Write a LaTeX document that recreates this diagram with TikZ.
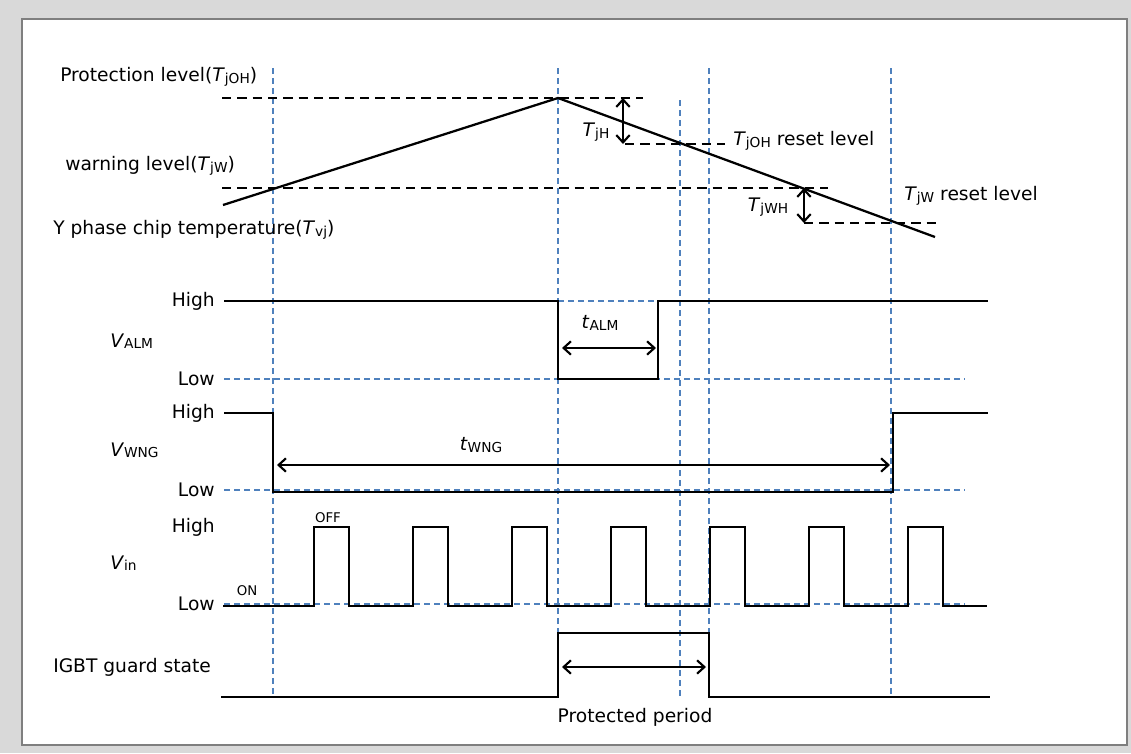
\documentclass[tikz,border=0pt]{standalone}
\usepackage{fontspec}
\setmainfont{DejaVu Sans}
\usetikzlibrary{arrows.meta}
\definecolor{bggray}{HTML}{D9D9D9}
\definecolor{framegray}{HTML}{7F7F7F}
\definecolor{guideblue}{HTML}{4F81BD}
\newcommand{\Tsub}[2]{\textit{#1}{\fontsize{10.3}{11}\selectfont\raisebox{-1pt}{#2}}}
\begin{document}
\begin{tikzpicture}[x=0.75pt,y=-0.75pt,
  sig/.style={line width=1.7pt, line join=miter},
  guide/.style={guideblue, line width=1pt, dash pattern=on 4.5pt off 3pt},
  levelline/.style={black, line width=1.7pt, dash pattern=on 7pt off 4.5pt},
  dimarrow/.style={line width=1.6pt, {Straight Barb[length=5.5pt,width=10pt]}-{Straight Barb[length=5.5pt,width=10pt]}},
  lbl/.style={font=\fontsize{14}{16}\selectfont, inner sep=0pt},
  smalllbl/.style={font=\fontsize{10}{11}\selectfont, inner sep=0pt}
]
\useasboundingbox (0,0) rectangle (1131,753);
\fill[bggray] (0,0) rectangle (1131,753);
\draw[framegray, fill=white, line width=1.2pt] (22,19) rectangle (1127,745);

% blue guides
\draw[guide] (273,68) -- (273,697);
\draw[guide] (558,68) -- (558,697);
\draw[guide] (680,100) -- (680,697);
\draw[guide] (709,68) -- (709,697);
\draw[guide] (891,68) -- (891,697);
\draw[guide] (224,379) -- (965,379);
\draw[guide] (558,301) -- (658,301);
\draw[guide] (224,490) -- (965,490);
\draw[guide] (224,604) -- (965,604);

% temperature section
\draw[levelline] (222,98) -- (643,98);
\draw[levelline] (222,188) -- (828,188);
\draw[levelline] (625,144) -- (725,144);
\draw[levelline] (804,223) -- (940,223);
\coordinate (tstart) at (223,205);
\coordinate (tpeak) at (558,98);
\coordinate (tend) at (935,237);
\draw[sig] (tstart) -- (tpeak) -- (tend);
\coordinate (jha) at (623,98);
\coordinate (jhb) at (623,144);
\draw[dimarrow] (jha) -- (jhb);
\coordinate (jwa) at (804,188);
\coordinate (jwb) at (804,223);
\draw[dimarrow] (jwa) -- (jwb);

\node[lbl, anchor=west] (protlvl) at (60,77) {Protection level(\Tsub{T}{jOH})};
\node[lbl, anchor=west] (warnlvl) at (65,166) {warning level(\Tsub{T}{jW})};
\node[lbl, anchor=west] (chiptemp) at (53,230) {Y phase chip temperature(\Tsub{T}{vj})};
\node[lbl] (tjh) at (596,132) {\Tsub{T}{jH}};
\node[lbl] (tjwh) at (768,207) {\Tsub{T}{jWH}};
\node[lbl, anchor=west] (ohreset) at (733,141) {\Tsub{T}{jOH} reset level};
\node[lbl, anchor=west] (wreset) at (904,196) {\Tsub{T}{jW} reset level};

% V_ALM
\draw[sig] (224,301) -- (558,301) -- (558,379) -- (658,379) -- (658,301) -- (988,301);
\coordinate (alma) at (562,348);
\coordinate (almb) at (656,348);
\draw[dimarrow] (alma) -- (almb);
\node[lbl] (talm) at (600,323) {\Tsub{t}{ALM}};
\node[lbl, anchor=west] (valm) at (110,341) {\Tsub{V}{ALM}};
\node[lbl, anchor=east] (h1) at (215,301) {High};
\node[lbl, anchor=east] (l1) at (215,379) {Low};

% V_WNG
\draw[sig] (224,413) -- (273,413) -- (273,492) -- (893,492) -- (893,413) -- (988,413);
\coordinate (wnga) at (277,465);
\coordinate (wngb) at (890,465);
\draw[dimarrow] (wnga) -- (wngb);
\node[lbl] (twng) at (481,445) {\Tsub{t}{WNG}};
\node[lbl, anchor=west] (vwng) at (110,450) {\Tsub{V}{WNG}};
\node[lbl, anchor=east] (h2) at (215,413) {High};
\node[lbl, anchor=east] (l2) at (215,490) {Low};

% V_in
\draw[sig] (223,606) foreach \x in {314,413,512,611,710,809,908} { -- (\x,606) -- (\x,527) -- (\x+35,527) -- (\x+35,606) } -- (987,606);
\node[lbl, anchor=west] (vin) at (110,563) {\Tsub{V}{in}};
\node[lbl, anchor=east] (h3) at (215,527) {High};
\node[lbl, anchor=east] (l3) at (215,604) {Low};
\node[smalllbl] (off) at (328,518) {OFF};
\node[smalllbl] (on) at (247,591) {ON};

% IGBT guard state
\draw[sig] (221,697) -- (558,697) -- (558,633) -- (709,633) -- (709,697) -- (990,697);
\coordinate (pra) at (562,667);
\coordinate (prb) at (706,667);
\draw[dimarrow] (pra) -- (prb);
\node[lbl, anchor=west] (igbt) at (53,667) {IGBT guard state};
\node[lbl] (prot) at (635,717) {Protected period};
\end{tikzpicture}
\end{document}
